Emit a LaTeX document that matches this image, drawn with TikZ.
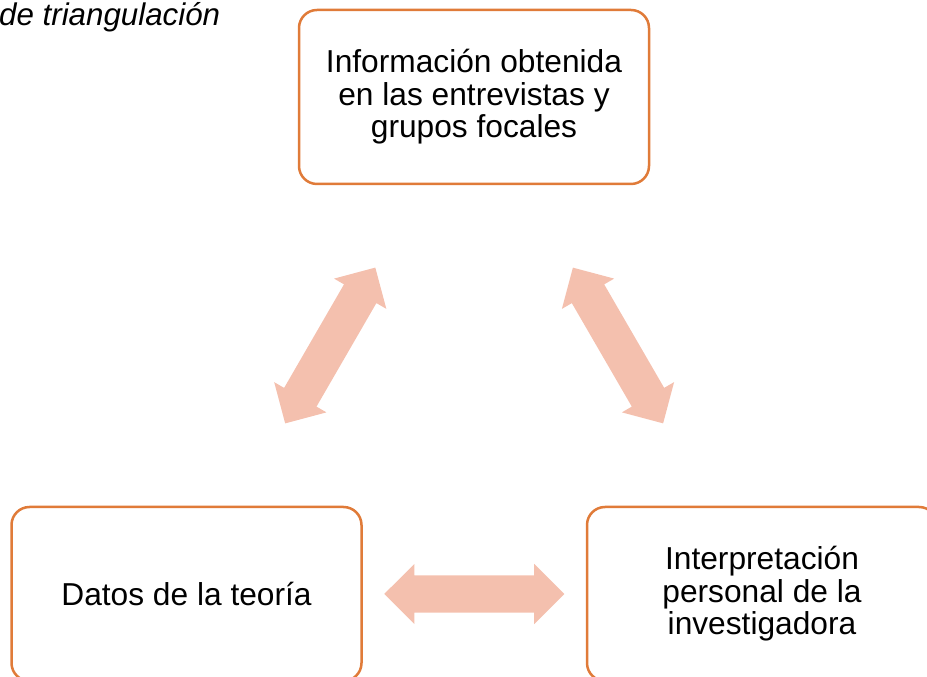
\documentclass[tikz,border=0pt]{standalone}
\usepackage{fontspec}
\setmainfont{Liberation Sans}
\usetikzlibrary{shapes.arrows}
\definecolor{boxorange}{HTML}{E07B39}
\definecolor{arrowpeach}{HTML}{F4C0AE}
\tikzset{
  cyclebox/.style={draw=boxorange, line width=2.5pt, rounded corners=18pt, fill=white,
    minimum width=350pt, minimum height=174pt, align=center, inner sep=0pt,
    font=\fontsize{31.7}{32.5}\selectfont},
  linkarrow/.style={double arrow, fill=arrowpeach, draw=none, minimum height=180pt,
    minimum width=60pt, double arrow head extend=11.5pt, double arrow tip angle=90,
    inner xsep=0pt, inner ysep=18.5pt, sloped, midway}
}
\begin{document}
\begin{tikzpicture}[x=1pt,y=1pt]
\useasboundingbox (0,0) rectangle (927,677);
\node[anchor=base west, inner sep=0pt, font=\fontsize{31.3}{32}\selectfont\itshape] (title) at (-1,651) {de triangulación};
\node[cyclebox] (top) at (474,580) {Información obtenida\\en las entrevistas y\\grupos focales};
\node[cyclebox] (left) at (186.5,83) {Datos de la teoría};
\node[cyclebox] (right) at (762,83) {Interpretación\\personal de la\\investigadora};
\path (left.center) -- node[linkarrow] (a1) {} (top.center);
\path (top.center) -- node[linkarrow] (a2) {} (right.center);
\path (left.center) -- node[linkarrow] (a3) {} (right.center);
\end{tikzpicture}
\end{document}
